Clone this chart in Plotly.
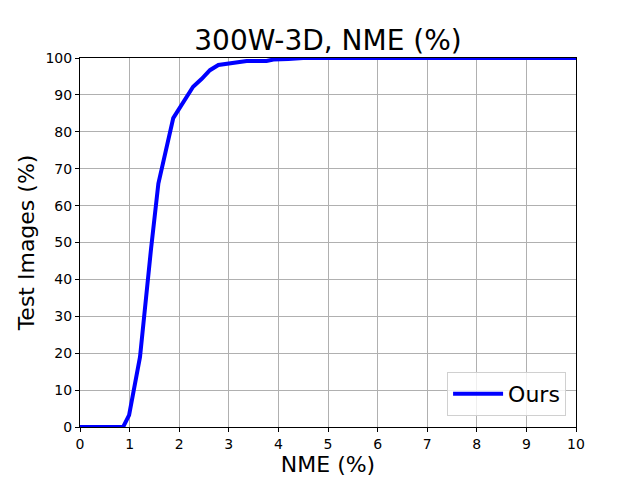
import plotly.graph_objects as go

nme = [0.0, 0.5, 0.87, 0.99, 1.21, 1.43, 1.58, 1.88, 2.05, 2.28, 2.45, 2.62, 2.79, 3.09, 3.36, 3.76, 3.9, 4.2, 4.5, 10.0]
test_images = [0.0, 0.0, 0.0, 3.2, 19.0, 48.0, 66.0, 83.7, 87.5, 92.2, 94.3, 96.7, 98.1, 98.6, 99.2, 99.2, 99.6, 99.7, 100.0, 100.0]

x_ticks = list(range(0, 11))
y_ticks = list(range(0, 101, 10))

fig = go.Figure()
fig.add_trace(go.Scatter(x=nme, y=test_images, mode="lines", name="Ours",
                         line=dict(color="#0000ff", width=4)))

font = "DejaVu Sans"
fig.update_layout(
    width=640, height=480,
    margin=dict(l=80, r=64, t=58, b=53, autoexpand=False),
    paper_bgcolor="white", plot_bgcolor="white",
    title=dict(text="300W-3D, NME (%)", x=0.5, xanchor="center", xref="paper",
               y=(480 - 40) / 480, yref="container", yanchor="middle",
               font=dict(family=font, size=28, color="black")),
    font=dict(family=font, color="black"),
    legend=dict(x=0.98, y=0.03, xanchor="right", yanchor="bottom",
                bgcolor="rgba(255,255,255,0.8)", bordercolor="#d0d0d0", borderwidth=1,
                itemwidth=50, entrywidth=85,
                font=dict(family=font, size=22)),
    showlegend=True,
)
fig.update_xaxes(range=[0, 10], tickvals=x_ticks, ticktext=[str(t) for t in x_ticks],
                 showgrid=True, gridcolor="#b0b0b0", gridwidth=1, automargin=False,
                 showline=True, linecolor="black", linewidth=1, mirror=True,
                 ticks="outside", ticklen=4, tickcolor="black",
                 tickfont=dict(size=14), zeroline=False,
                 title=dict(text="NME (%)", font=dict(size=22), standoff=4))
fig.update_yaxes(range=[0, 100], tickvals=y_ticks, ticktext=[str(t) for t in y_ticks],
                 showgrid=True, gridcolor="#b0b0b0", gridwidth=1, automargin=False,
                 showline=True, linecolor="black", linewidth=1, mirror=True,
                 ticks="outside", ticklen=4, tickcolor="black",
                 tickfont=dict(size=14), zeroline=False,
                 title=dict(text="Test Images (%)", font=dict(size=22), standoff=4))

fig.write_html("out.html")
